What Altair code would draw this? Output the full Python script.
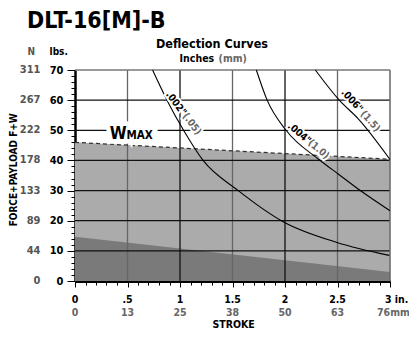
import altair as alt
import pandas as pd
import numpy as np

FONT = "DejaVu Sans Condensed, DejaVu Sans, sans-serif"

# ---------------- data ----------------
# deflection curves: stroke (in) vs force (lbs)
curve_002_x = [0.739, 0.876, 1.034, 1.22, 1.555, 1.987, 2.495, 2.993]
curve_002_y = [70, 60, 50, 40, 30, 19.6, 12.8, 8.5]
curve_004_x = [1.727, 1.83, 2.01, 2.32, 2.51, 2.717, 3.0]
curve_004_y = [70, 60, 50, 40.4, 35.4, 30, 23.3]
curve_006_x = [2.289, 2.517, 2.70, 3.0]
curve_006_y = [70, 60, 53.7, 40.3]

# W max line (top of light area) and lower dark area
wmax_x = [0, 3]
wmax_y = [46, 40.4]
low_x = [0, 3]
low_y = [14.7, 3.0]

# ticks / labels
x_major = [0, 0.5, 1, 1.5, 2, 2.5, 3]
x_labels_in = ["0", ".5", "1", "1.5", "2", "2.5", "3 in."]
x_labels_mm = ["0", "13", "25", "38", "50", "63", "76mm"]
y_major = [0, 10, 20, 30, 40, 50, 60, 70]
y_labels_n = ["0", "44", "89", "133", "178", "222", "267", "311"]

# curve labels (anchor in data units)
lab_text = ['.002"', '(.05)', '.004"', '(1.0)', '.006"', '(1.5)']
lab_x = [0.962, 1.114, 2.136, 2.32, 2.638, 2.812]
lab_y = [58.9, 52.1, 49.0, 43.7, 59.8, 53.0]
lab_curve = [".002", ".002", ".004", ".004", ".006", ".006"]
curve_angle = {".002": 53, ".004": 40, ".006": 48}

# W MAX label anchor
wmax_lab_x = [0.33, 0.49]
wmax_lab_y = [47.2, 47.2]
wmax_lab_text = ["W", "MAX"]

# ---------------- frames ----------------
curves = pd.concat([
    pd.DataFrame({"x": curve_002_x, "y": curve_002_y, "c": ".002"}),
    pd.DataFrame({"x": curve_004_x, "y": curve_004_y, "c": ".004"}),
    pd.DataFrame({"x": curve_006_x, "y": curve_006_y, "c": ".006"}),
])
wmax = pd.DataFrame({"x": wmax_x, "y": wmax_y})
low = pd.DataFrame({"x": low_x, "y": low_y})
labels = pd.DataFrame({"x": lab_x, "y": lab_y, "t": lab_text, "c": lab_curve})
labels["a"] = labels["c"].map(curve_angle)
labels["col"] = ["black" if i % 2 == 0 else "#666666" for i in range(len(labels))]
wlab = pd.DataFrame({"x": wmax_lab_x, "y": wmax_lab_y, "t": wmax_lab_text})
xt = pd.DataFrame({"x": x_major, "tin": x_labels_in, "tmm": x_labels_mm})
yt = pd.DataFrame({"y": y_major, "tn": y_labels_n})

vgrid = pd.DataFrame({"x": [0.5, 1, 1.5, 2, 2.5]})
vgrid["col"] = ["#111111" if float(v).is_integer() else "#666666" for v in vgrid["x"]]
hgrid = pd.DataFrame({"y": [10, 20, 30, 40, 50, 60]})

W, H = 315, 211
TOP = 62

xscale = alt.Scale(domain=[0, 3], nice=False, zero=False)
yscale = alt.Scale(domain=[0, 70], nice=False, zero=False)

xaxis = alt.Axis(
    values=[round(v, 1) for v in np.arange(0, 3.01, 0.1)],
    labels=False, title=None, grid=False,
    domainColor="black", domainWidth=3, tickColor="black", tickWidth=1,
    tickSize=alt.condition("abs(datum.value*2 - round(datum.value*2)) < 0.001", alt.value(6), alt.value(4)),
)
yaxis = alt.Axis(
    values=list(range(0, 71, 2)),
    labelExpr="datum.value % 10 == 0 ? datum.label : ''",
    title=None, grid=False, labelOverlap=False, labelBound=False,
    domainColor="black", domainWidth=2.5, tickColor="black", tickWidth=1,
    tickSize=alt.condition("datum.value % 10 == 0", alt.value(8), alt.value(4)),
    labelFont=FONT, labelFontSize=11, labelFontWeight="bold", labelColor="black",
    labelPadding=4,
)

X = alt.X("x:Q", scale=xscale, axis=xaxis)
Y = alt.Y("y:Q", scale=yscale, axis=yaxis)

light = alt.Chart(wmax).mark_area(color="#ababab", opacity=1).encode(x=X, y=Y)
dark = alt.Chart(low).mark_area(color="#7a7a7a", opacity=1).encode(x=X, y=Y)

vrules = alt.Chart(vgrid).mark_rule(strokeWidth=1.3).encode(
    x=X, color=alt.Color("col:N", scale=None))
hrules = alt.Chart(hgrid).mark_rule(strokeWidth=1.2, color="#111111").encode(y=Y)
top_rule = alt.Chart(pd.DataFrame({"y": [70]})).mark_rule(strokeWidth=1.5, color="#777777").encode(y=Y)
right_rule = alt.Chart(pd.DataFrame({"x": [3]})).mark_rule(strokeWidth=1.5, color="#666666").encode(x=X)

wline = alt.Chart(wmax).mark_line(color="#333333", strokeWidth=1.2, strokeDash=[4, 3]).encode(x=X, y=Y)

lines = alt.Chart(curves).mark_line(color="black", strokeWidth=1.1, interpolate="monotone").encode(
    x=X, y=Y, detail="c:N")

halo = alt.Chart(labels).mark_text(
    font=FONT, fontSize=10, fontWeight="bold", fill="white", stroke="white",
    strokeWidth=4, align="center", baseline="middle").encode(
    x=X, y=Y, text="t:N", angle=alt.Angle("a:Q", scale=None))
ltext = alt.Chart(labels).mark_text(
    font=FONT, fontSize=10, fontWeight="bold", align="center", baseline="middle").encode(
    x=X, y=Y, text="t:N", angle=alt.Angle("a:Q", scale=None), color=alt.Color("col:N", scale=None))

wsizes = {"W": 17, "MAX": 11.5}
whalo_layers = []
wtext_layers = []
for t in wmax_lab_text:
    d = wlab[wlab["t"] == t]
    whalo_layers.append(alt.Chart(d).mark_text(
        font=FONT, fontSize=wsizes[t], fontWeight="bold", fill="white", stroke="white",
        strokeWidth=9, align="left", baseline="alphabetic").encode(x=X, y=Y, text="t:N"))
    wtext_layers.append(alt.Chart(d).mark_text(
        font=FONT, fontSize=wsizes[t], fontWeight="bold", color="black",
        align="left", baseline="alphabetic").encode(x=X, y=Y, text="t:N"))

# N labels on left
nlab = alt.Chart(yt).mark_text(font=FONT, fontSize=11, fontWeight="bold", color="#555555",
                               align="right", baseline="middle").encode(
    y=Y, x=alt.value(-34.5), text="tn:N")

# x labels rows
xt_main = xt.iloc[:-1]
xt_last = xt.iloc[-1:]
XFS = 10.5
xin = alt.Chart(xt_main).mark_text(font=FONT, fontSize=XFS, fontWeight="bold", color="black",
                                   align="center", baseline="alphabetic").encode(
    x=X, y=alt.value(H + 22), text="tin:N")
xin_last = alt.Chart(xt_last).mark_text(font=FONT, fontSize=XFS, fontWeight="bold", color="black",
                                        align="left", baseline="alphabetic", dx=-5).encode(
    x=X, y=alt.value(H + 22), text="tin:N")
xmm = alt.Chart(xt_main).mark_text(font=FONT, fontSize=XFS, fontWeight="bold", color="#666666",
                                   align="center", baseline="alphabetic").encode(
    x=X, y=alt.value(H + 34.5), text="tmm:N")
xmm_last = alt.Chart(xt_last).mark_text(font=FONT, fontSize=XFS, fontWeight="bold", color="#666666",
                                        align="left", baseline="alphabetic", dx=-13).encode(
    x=X, y=alt.value(H + 34.5), text="tmm:N")

dummy = pd.DataFrame({"a": [0]})


def txt(text, x, y, size, color="black", align="left", angle=None, baseline="alphabetic"):
    kw = dict(text=text, font=FONT, fontSize=size, fontWeight="bold", color=color,
              align=align, baseline=baseline)
    if angle is not None:
        kw["angle"] = angle
    return alt.Chart(dummy).mark_text(**kw).encode(x=alt.value(x), y=alt.value(y))


statics = [
    txt("DLT-16[M]-B", -48, 19.5 - TOP, 23),
    txt("Deflection Curves", 137, -22, 12.5, align="center"),
    txt("Inches", 104.6, -8.5, 10.5),
    txt("(mm)", 143.6, -8.5, 10.5, color="#666666"),
    txt("N", -43.7, -15, 10, color="#555555", align="center"),
    txt("lbs.", -25.4, -15, 10),
    txt("STROKE", 158.6, H + 47, 10.5, align="center"),
    txt("FORCE+PAYLOAD  F+W", -60.7, 99.8, 10, align="center", angle=270, baseline="middle"),
]

chart = alt.layer(
    light, dark, vrules, hrules, top_rule, right_rule, wline, lines,
    halo, ltext, *whalo_layers, *wtext_layers,
    nlab, xin, xin_last, xmm, xmm_last, *statics
).properties(
    width=W, height=H,
    padding={"left": 67, "top": TOP, "right": 19, "bottom": 49},
    autosize=alt.AutoSizeParams(type="none"),
    background="white",
).configure_view(stroke=None)

chart.save("out.html", embed_options={"renderer": "svg", "actions": False})
